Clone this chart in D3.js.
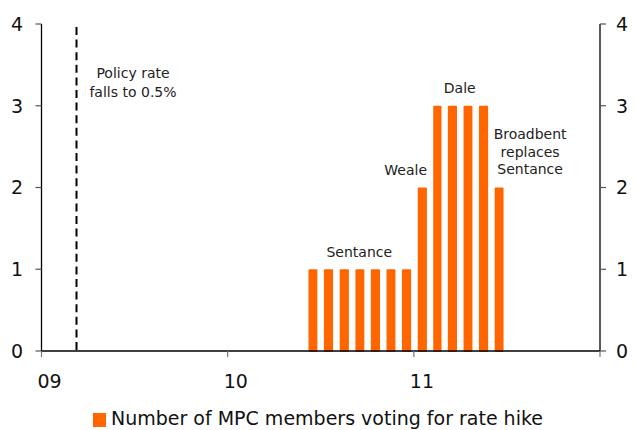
<!DOCTYPE html>
<html><head><meta charset="utf-8">
<script src="https://cdn.jsdelivr.net/npm/d3@7"></script>
<style>html,body{margin:0;padding:0;background:#fff;}svg{display:block;}</style>
</head><body>
<svg id="chart" width="636" height="430"></svg>
<script>
// Data
const months = ["2010-06","2010-07","2010-08","2010-09","2010-10","2010-11","2010-12","2011-01","2011-02","2011-03","2011-04","2011-05","2011-06"];
const votes = [1,1,1,1,1,1,1,2,3,3,3,3,2];
const yTicks = [0,1,2,3,4];
const xTickYears = ["2009","2010","2011","2012"];
const xTickLabels = ["09","10","11",""];
const policyDate = "2009-03-09";
const policyLabel = ["Policy rate","falls to 0.5%"];
const annotationDates = ["2010-09-16","2010-12-16","2011-04-01","2011-08-17"];
const annotationLevels = [1.15,2.15,3.155,2.59];
const annotationTexts = [["Sentance"],["Weale"],["Dale"],["Broadbent","replaces","Sentance"]];
const legendLabel = "Number of MPC members voting for rate hike";

(function(){
const svg = d3.select("#chart");
const font = "Verdana, 'DejaVu Sans', sans-serif";
const parseM = d3.timeParse("%Y-%m");
const parseD = d3.timeParse("%Y-%m-%d");
const parseY = d3.timeParse("%Y");

const pLeft = 41.5, pRight = 600, pTop = 24, pBottom = 351;
const x = d3.scaleTime().domain([parseY("2009"), parseY("2012")]).range([pLeft, pRight]);
const y = d3.scaleLinear().domain([0,4]).range([pBottom, pTop]);

// bars
const bars = months.map((m,i)=>{
  const s = parseM(m), e = d3.timeMonth.offset(s,1);
  return {s, e, v: votes[i]};
});
svg.append("g").selectAll("rect").data(bars).join("rect")
  .attr("x", d => { const w = x(d.e)-x(d.s); return (x(d.s)+x(d.e))/2 - w*0.29 + 0.6; })
  .attr("width", d => (x(d.e)-x(d.s))*0.58)
  .attr("y", d => y(d.v))
  .attr("height", d => y(0)-y(d.v)+1)
  .attr("rx", 1)
  .attr("fill", "#ff6600");

// axes
const axisCol = "#000";
svg.append("line").attr("x1", pLeft).attr("x2", pLeft).attr("y1", y(4)).attr("y2", pBottom)
  .attr("stroke", axisCol).attr("stroke-width", 1.3);
svg.append("line").attr("x1", pRight).attr("x2", pRight).attr("y1", y(4)).attr("y2", pBottom)
  .attr("stroke", axisCol).attr("stroke-width", 1.3);

// y ticks left
const gl = svg.append("g");
gl.selectAll("line").data(yTicks).join("line")
  .attr("x1", pLeft-6).attr("x2", pLeft).attr("y1", d=>y(d)).attr("y2", d=>y(d))
  .attr("stroke", "#555").attr("stroke-width", 1.2);
gl.selectAll("text").data(yTicks).join("text")
  .attr("x", 23).attr("y", d=>y(d)).attr("dy","0.36em")
  .attr("text-anchor","end").attr("font-family",font).attr("font-size",19).attr("fill","#111")
  .text(d=>d);
// y ticks right
const gr = svg.append("g");
gr.selectAll("line").data(yTicks).join("line")
  .attr("x1", pRight).attr("x2", pRight+6).attr("y1", d=>y(d)).attr("y2", d=>y(d))
  .attr("stroke", "#555").attr("stroke-width", 1.2);
gr.selectAll("text").data(yTicks).join("text")
  .attr("x", 616).attr("y", d=>y(d)).attr("dy","0.36em")
  .attr("text-anchor","start").attr("font-family",font).attr("font-size",19).attr("fill","#111")
  .text(d=>d);

// x axis
svg.append("line").attr("x1", pLeft).attr("x2", pRight).attr("y1", pBottom).attr("y2", pBottom)
  .attr("stroke", axisCol).attr("stroke-width", 1.3);
const gx = svg.append("g");
gx.selectAll("line").data(xTickYears).join("line")
  .attr("x1", d=>x(parseY(d))).attr("x2", d=>x(parseY(d)))
  .attr("y1", pBottom).attr("y2", pBottom+6)
  .attr("stroke", "#777").attr("stroke-width", 1.2);
gx.selectAll("text").data(xTickYears).join("text")
  .attr("x", d=>x(parseY(d))-4).attr("y", 388)
  .attr("text-anchor","start").attr("font-family",font).attr("font-size",19).attr("fill","#111")
  .text((d,i)=>xTickLabels[i]);

// policy dashed line
const px = Math.round(x(parseD(policyDate)))+0.5;
svg.append("line").attr("x1", px).attr("x2", px).attr("y1", 27).attr("y2", pBottom)
  .attr("stroke","#000").attr("stroke-width",2).attr("stroke-dasharray","8,4.6");
svg.append("text").attr("x", 133).attr("y", 78)
  .attr("text-anchor","middle").attr("font-family",font).attr("font-size",14).attr("fill","#222")
  .selectAll("tspan").data(policyLabel).join("tspan")
  .attr("x",133).attr("dy",(d,i)=>i?18.5:0).text(d=>d);

// annotations
annotationDates.forEach((dt,i)=>{
  const cx = x(parseD(dt));
  svg.append("text").attr("y", y(annotationLevels[i]))
    .attr("text-anchor","middle").attr("font-family",font).attr("font-size",14).attr("fill","#222")
    .selectAll("tspan").data(annotationTexts[i]).join("tspan")
    .attr("x",cx).attr("dy",(d,j)=>j?17.5:0).text(d=>d);
});

// legend
svg.append("rect").attr("x",93).attr("y",413).attr("width",13).attr("height",14).attr("fill","#ff6600");
svg.append("text").attr("x",111).attr("y",425).attr("font-family",font).attr("font-size",19).attr("fill","#111")
  .text(legendLabel);
})();
</script>
</body></html>
